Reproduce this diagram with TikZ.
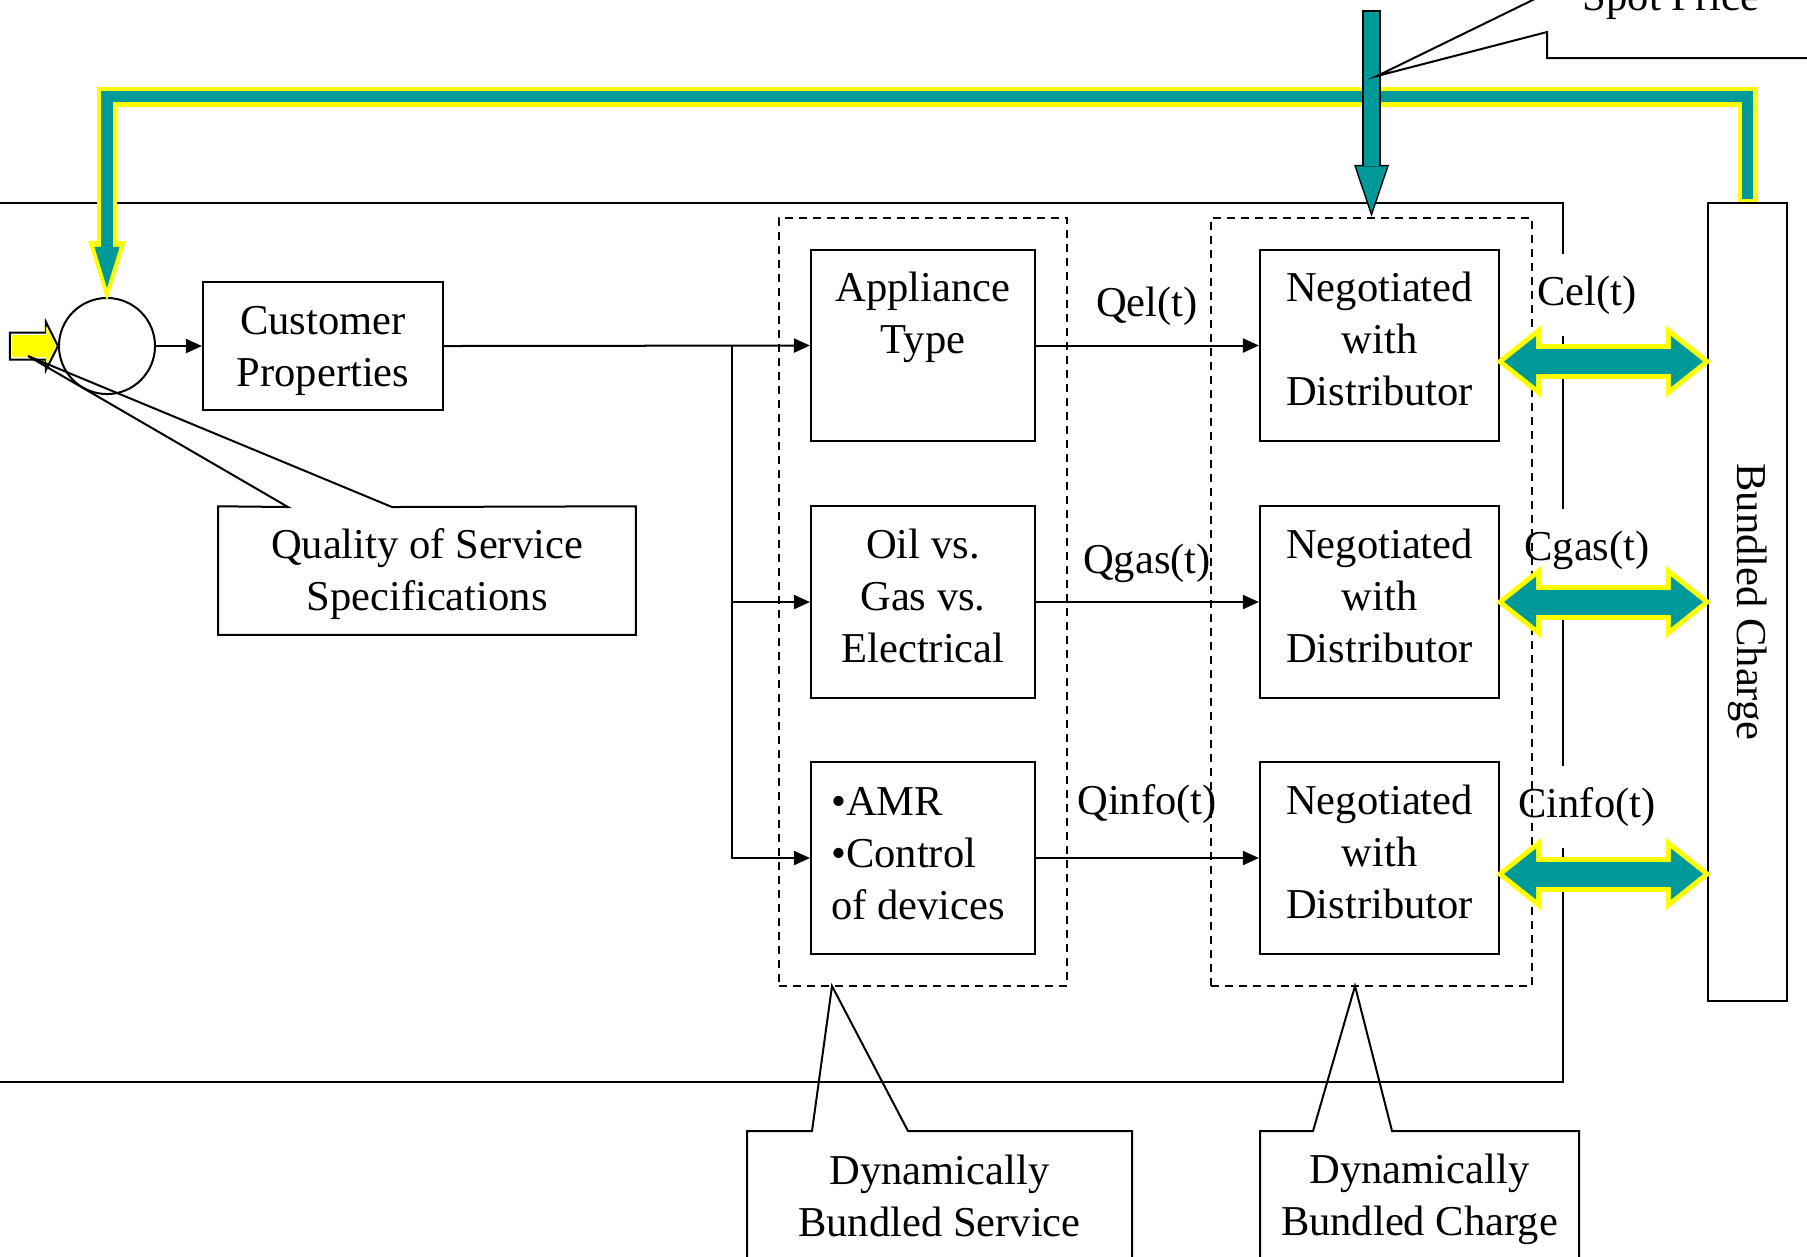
\documentclass[tikz,border=0pt]{standalone}
\usepackage{fontspec}
\setmainfont{Liberation Serif}
\usepackage{graphicx}
\usetikzlibrary{arrows.meta}
\definecolor{spotteal}{HTML}{009999}
\definecolor{spotyellow}{HTML}{FFFF00}
\tikzset{
  box/.style={draw, line width=0.02cm, align=center, inner sep=0pt},
  svc/.style={box, minimum width=2.24cm, minimum height=1.91cm, text depth=0.13cm},
  neg/.style={box, minimum width=2.39cm, minimum height=1.91cm, text depth=0.13cm},
  calltext/.style={align=center, inner sep=0pt},
  grp/.style={draw, dash pattern=on 0.08cm off 0.06cm, line width=0.02cm, minimum height=7.68cm},
  flow/.style={line width=0.02cm, -{Triangle[length=0.16cm,width=0.14cm]}},
  qlbl/.style={anchor=base},
  clbl/.style={anchor=base, fill=white, inner xsep=0.01cm, inner ysep=0pt, minimum height=0.82cm},
  fbout/.style={color=spotyellow, line width=0.20cm, shorten >=-0.04cm,
    -{Triangle[length=0.60cm,width=0.38cm,line width=0pt]}},
  fbin/.style={color=spotteal, line width=0.11cm, shorten <=0.03cm, shorten >=0.09cm,
    -{Triangle[length=0.41cm,width=0.25cm,line width=0pt]}},
  dblout/.style={color=spotyellow, line width=0.35cm, shorten <=-0.04cm, shorten >=-0.04cm,
    {Triangle[length=0.45cm,width=0.72cm,line width=0pt]}-{Triangle[length=0.45cm,width=0.72cm,line width=0pt]}},
  dblin/.style={color=spotteal, line width=0.25cm, shorten <=0.04cm, shorten >=0.04cm,
    {Triangle[length=0.32cm,width=0.51cm,line width=0pt]}-{Triangle[length=0.32cm,width=0.51cm,line width=0pt]}},
  spotout/.style={color=black, line width=0.185cm, -{Triangle[length=0.52cm,width=0.35cm,line width=0pt]}},
  spotin/.style={color=spotteal, line width=0.155cm, shorten <=0.015cm, shorten >=0.047cm,
    -{Triangle[length=0.458cm,width=0.31cm,line width=0pt]}},
}
\begin{document}
\begin{tikzpicture}[x=0.01cm, y=-0.01cm, font=\fontsize{12.1pt}{14.8pt}\selectfont]
  \useasboundingbox (0,0) rectangle (1807,1256);
  \draw[line width=0.02cm] (-20,203) rectangle (1563,1082);
  \node[draw, circle, line width=0.02cm, minimum size=0.96cm, inner sep=0pt] (mix) at (107,346) {};
  \node[box, minimum width=2.40cm, minimum height=1.28cm, text depth=0pt] (cust) at (323,346) {Customer\\Properties};
  \node[calltext, minimum width=4.16cm, minimum height=1.27cm, text depth=0.02cm] (qos) at (427,570.5) {Quality of Service\\Specifications};
  \node[svc] (app) at (923,345.5) {Appliance\\Type\\\strut};
  \node[svc] (oil) at (923,602) {Oil vs.\\Gas vs.\\Electrical};
  \node[svc, align=left, text depth=0.09cm] (amr) at (923,858) {•AMR\\•Control\\of devices\hspace*{0.10cm}};
  \node[neg] (neg1) at (1379.5,345.5) {Negotiated\\with\\Distributor};
  \node[neg] (neg2) at (1379.5,602) {Negotiated\\with\\Distributor};
  \node[neg] (neg3) at (1379.5,858) {Negotiated\\with\\Distributor};
  \node[box, minimum width=0.79cm, minimum height=7.98cm] (bc) at (1747.5,602) {\rotatebox{-90}{Bundled Charge}};
  \node[clbl] (cel) at (1587,305) {Cel(t)};
  \node[clbl] (cgas) at (1587,560) {Cgas(t)};
  \node[clbl] (cinfo) at (1587,817) {Cinfo(t)};
  \node[grp, minimum width=2.88cm] (svcgrp) at (923,602) {};
  \node[grp, minimum width=3.21cm] (chggrp) at (1371.5,602) {};

  \coordinate (split) at (732,346);
  \draw[flow] (mix.east) -- (cust.west);
  \draw[flow] (cust.east) -- (app.west);
  \draw[flow] (split) |- (oil.west);
  \draw[flow] (split) |- (amr.west);
  \draw[flow] (app.east) -- (neg1.west);
  \draw[flow] (oil.east) -- (neg2.west);
  \draw[flow] (amr.east) -- (neg3.west);
  \node[qlbl] (qel) at (1147,316) {Qel(t)};
  \node[qlbl] (qgas) at (1147,573) {Qgas(t)};
  \node[qlbl] (qinfo) at (1147,814) {Qinfo(t)};

  \draw[fbout] (bc.north) -- ++(0,-105) -| (mix.north);
  \draw[fbin] (bc.north) -- ++(0,-105) -| (mix.north);

  \coordinate (el) at ([yshift=-0.16cm]neg1.east);
  \coordinate (eg) at (neg2.east);
  \coordinate (ei) at ([yshift=-0.16cm]neg3.east);
  \draw[dblout] (el) -- (el -| bc.west);
  \draw[dblin] (el) -- (el -| bc.west);
  \draw[dblout] (eg) -- (eg -| bc.west);
  \draw[dblin] (eg) -- (eg -| bc.west);
  \draw[dblout] (ei) -- (ei -| bc.west);
  \draw[dblin] (ei) -- (ei -| bc.west);

  \coordinate (spot) at (1371.5,10);
  \draw[spotout] (spot) -- (chggrp.north);
  \draw[spotin] (spot) -- (chggrp.north);

  \draw[line width=0.02cm] (mix.west) -- ++(-12,-24) -- ++(0,10.5) -- ++(-36,0) -- ++(0,27)
    -- ++(36,0) -- ++(0,10.5) -- cycle;
  \fill[spotyellow] (mix.west) ++(-2,0) -- ++(-10,-20) -- ++(0,9) -- ++(-34,0) -- ++(0,22)
    -- ++(34,0) -- ++(0,9) -- cycle;

  \draw[line width=0.02cm] (qos.north west) -- (288,507) -- (28,356) -- (392,507) -- (qos.north east)
    -- (qos.south east) -- (qos.south west) -- cycle;

  \node[calltext] (dbs) at (939.5,1195.5) {Dynamically\\Bundled Service};
  \draw[line width=0.02cm] (747,1300) |- (812,1131) -- (832,986) -- (908,1131) -| (1132,1300);
  \node[calltext] (dbc) at (1419.5,1199) {Dynamically\\Bundled Charge};
  \draw[line width=0.02cm] (1260,1300) |- (1313,1131) -- (1355,986) -- (1392,1131) -| (1579,1300);
  \node[anchor=base] (spotlbl) at (1671,10) {Spot Price};
  \draw[line width=0.02cm] (1547,-40) -- (1547,-7) -- (1377,76) -- (1547,32) -- (1547,58) -- (1850,58);
\end{tikzpicture}
\end{document}
